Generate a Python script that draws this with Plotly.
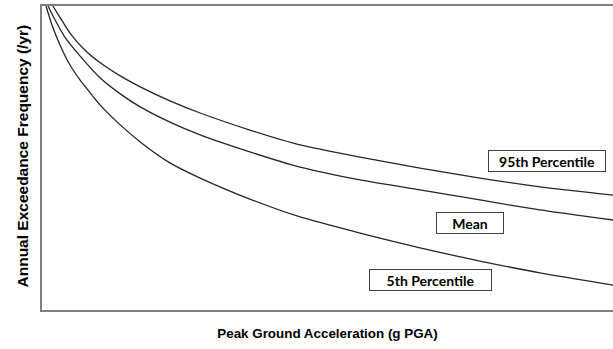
import plotly.graph_objects as go

# Peak ground acceleration (g) and annual exceedance frequency (normalised, axis unlabeled)
pga_95 = [0.019, 0.032, 0.049, 0.075, 0.102, 0.137, 0.172, 0.224, 0.277, 0.364, 0.452, 0.557, 0.662, 0.767, 0.872, 1.0]
freq_95 = [1.000, 0.961, 0.911, 0.855, 0.813, 0.770, 0.734, 0.688, 0.648, 0.592, 0.543, 0.503, 0.467, 0.434, 0.405, 0.378]

pga_mean = [0.0105, 0.023, 0.040, 0.0665, 0.102, 0.137, 0.172, 0.224, 0.277, 0.364, 0.452, 0.557, 0.662, 0.767, 0.872, 1.0]
freq_mean = [1.000, 0.954, 0.898, 0.836, 0.763, 0.711, 0.668, 0.618, 0.576, 0.520, 0.470, 0.428, 0.395, 0.362, 0.329, 0.296]

pga_5 = [0.007, 0.0175, 0.0315, 0.049, 0.0665, 0.0876, 0.102, 0.137, 0.172, 0.224, 0.277, 0.364, 0.452, 0.557, 0.662, 0.767, 0.872, 1.0]
freq_5 = [1.000, 0.9375, 0.872, 0.806, 0.757, 0.707, 0.674, 0.609, 0.553, 0.484, 0.434, 0.365, 0.306, 0.253, 0.204, 0.161, 0.122, 0.082]

labels = ["95th Percentile", "Mean", "5th Percentile"]

fig = go.Figure()
for xs, ys, name in [(pga_95, freq_95, labels[0]), (pga_mean, freq_mean, labels[1]), (pga_5, freq_5, labels[2])]:
    fig.add_trace(go.Scatter(x=xs, y=ys, mode="lines", name=name,
                             line=dict(color="#262626", width=1.3, shape="spline", smoothing=0.6),
                             hoverinfo="skip"))

label_font = dict(family="Lato, Open Sans, sans-serif", size=14, color="#000000")
ann_specs = [
    (labels[0], 0.884, 0.490, 114),
    (labels[1], 0.750, 0.286, 64),
    (labels[2], 0.680, 0.099, 119),
]
for text, ax, ay, w in ann_specs:
    fig.add_annotation(text="<b>%s</b>" % text, xref="paper", yref="paper", x=ax, y=ay,
                       xanchor="center", yanchor="middle",
                       showarrow=False, font=label_font, bgcolor="white",
                       bordercolor="#404040", borderwidth=1, borderpad=1,
                       width=w, height=18, align="center", valign="middle")

# y-axis title (placed as rotated text to match the reference position)
fig.add_annotation(text="<b>Annual Exceedance Frequency (/yr)</b>", xref="paper", yref="paper",
                   x=-0.035, y=0.505, xanchor="center", yanchor="middle", textangle=-90,
                   showarrow=False,
                   font=dict(family="Liberation Sans, Arial, sans-serif", size=15.5, color="#000000"))

axis_title_font = dict(family="Liberation Sans, Arial, sans-serif", size=13.4, color="#000000")
fig.update_layout(
    width=613, height=349, autosize=False,
    margin=dict(l=42, r=0, t=6, b=39),
    paper_bgcolor="white", plot_bgcolor="white",
    showlegend=False,
    xaxis=dict(range=[0, 1.0], showgrid=False, zeroline=False, showticklabels=False, ticks="",
               showline=True, mirror=True, linecolor="#808080", linewidth=2,
               title=dict(text="<b>Peak Ground Acceleration (g PGA)</b>", font=axis_title_font, standoff=18)),
    yaxis=dict(range=[0, 1.0], showgrid=False, zeroline=False, showticklabels=False, ticks="",
               showline=True, mirror=False, linecolor="#808080", linewidth=2),
)

fig.write_html("out.html", config={"responsive": False, "displayModeBar": False},
               post_script="document.body.style.margin='0px';document.body.style.padding='0px';")
